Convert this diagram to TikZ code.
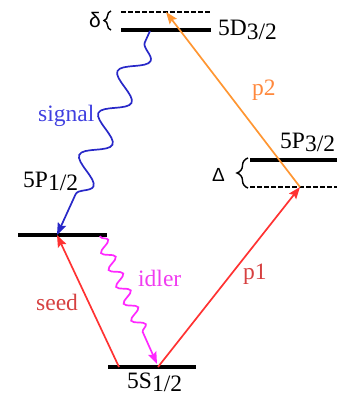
\documentclass[tikz,border=0pt]{standalone}
\usepackage{fontspec}
\setmainfont{Liberation Serif}
\newfontfamily\grk{Liberation Sans}
\usetikzlibrary{arrows.meta,decorations.pathmorphing,decorations.pathreplacing}
\definecolor{cred}{RGB}{255,50,50}
\definecolor{credtxt}{RGB}{214,64,64}
\definecolor{corange}{RGB}{255,150,50}
\definecolor{corangetxt}{RGB}{255,136,60}
\definecolor{cblue}{RGB}{40,40,200}
\definecolor{cbluetxt}{RGB}{64,64,224}
\definecolor{cmag}{RGB}{255,40,255}
\definecolor{cmagtxt}{RGB}{240,60,240}
\newcommand\lsub[1]{\raisebox{-3.5pt}{#1}}
\begin{document}
\begin{tikzpicture}[x=1pt,y=-1pt,
  txt/.style={inner sep=0pt, anchor=base west, font=\fontsize{23.5}{26}\selectfont},
  level/.style={line width=3.3pt},
  virt/.style={line width=1.4pt, dash pattern=on 4.5pt off 2.5pt},
  tip/.style={-{Stealth[length=12pt,width=9pt,inset=2pt]}},
  beam/.style={line width=1.7pt, tip},
  wavy/.style={line width=1.7pt, tip, decorate},
  brc/.style={line width=1.4pt, decorate}
]
\useasboundingbox (0,0) rectangle (337,396);

% levels
\coordinate (D1) at (121,30);  \coordinate (D2) at (211,30);
\coordinate (d1) at (121,12);  \coordinate (d2) at (211,12);
\coordinate (P31) at (250,160); \coordinate (P32) at (337,160);
\coordinate (v1) at (250,187); \coordinate (v2) at (337,187);
\coordinate (P11) at (18,235);  \coordinate (P12) at (107,235);
\coordinate (S1) at (108,367);  \coordinate (S2) at (196,367);

\draw[level] (D1) -- (D2);
\draw[virt] (d1) -- (d2);
\draw[level] (P31) -- (P32);
\draw[virt] (v1) -- (v2);
\draw[level] (P11) -- (P12);
\draw[level] (S1) -- (S2);

% braces
\coordinate (b1a) at (111,30); \coordinate (b1b) at (111,11);
\draw[brc, decoration={brace, amplitude=7pt}] (b1a) -- (b1b);
\coordinate (b2a) at (248,188); \coordinate (b2b) at (248,158);
\draw[brc, decoration={brace, amplitude=11pt}] (b2a) -- (b2b);

% beams
\coordinate (seedA) at (119,367); \coordinate (seedB) at (57,235);
\coordinate (p1A) at (158,367);   \coordinate (p1B) at (300,187);
\coordinate (p2B) at (166,12);
\coordinate (sigA) at (150,31);   \coordinate (sigB) at (57,235);
\coordinate (idA) at (100,236);   \coordinate (idB) at (157,364);

\draw[beam, cred] (seedA) -- (seedB);
\draw[beam, cred] (p1A) -- (p1B);
\draw[beam, corange] (p1B) -- (p2B);
\draw[wavy, cblue, decoration={snake, segment length=46pt, amplitude=13pt, pre length=12.6pt, post length=40pt}] (sigA) -- (sigB);
\draw[wavy, cmag, decoration={snake, segment length=18.5pt, amplitude=6pt, pre length=1pt, post length=29pt}] (idA) -- (idB);

% labels
\node[txt] (l5D) at (218,36) {5D\lsub{3/2}};
\node[txt] (l5P3) at (280,148) {5P\lsub{3/2}};
\node[txt] (l5P1) at (23,187) {5P\lsub{1/2}};
\node[txt] (l5S) at (127,388) {5S\lsub{1/2}};
\node[txt, font=\grk\fontsize{21}{22}\selectfont] (ldelta) at (89,28) {δ};
\node[txt, font=\grk\fontsize{19}{20}\selectfont] (lDelta) at (212,181) {Δ};
\node[txt, text=cbluetxt] (lsig) at (38,121) {signal};
\node[txt, text=corangetxt] (lp2) at (252,95) {p2};
\node[txt, text=cmagtxt] (lid) at (138,286) {idler};
\node[txt, text=credtxt] (lseed) at (36,310) {seed};
\node[txt, text=credtxt] (lp1) at (243,279) {p1};
\end{tikzpicture}
\end{document}
